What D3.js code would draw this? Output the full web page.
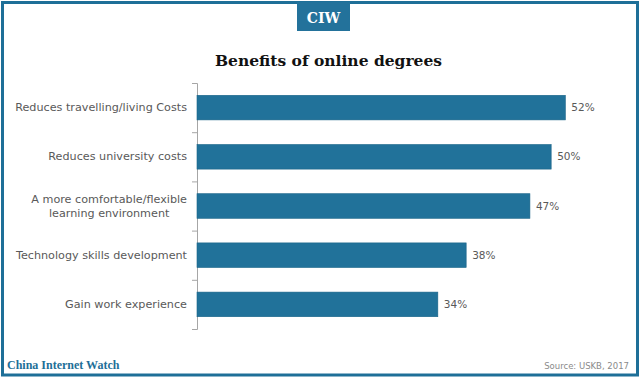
<!DOCTYPE html>
<html><head><meta charset="utf-8">
<script src="https://cdn.jsdelivr.net/npm/d3@7"></script>
<style>
html,body{margin:0;padding:0;background:#fff;}
svg{display:block;}
</style></head>
<body>
<svg id="c" width="640" height="379"></svg>
<script>
const categories = [
  "Reduces travelling/living Costs",
  "Reduces university costs",
  "A more comfortable/flexible\nlearning environment",
  "Technology skills development",
  "Gain work experience"
];
const values = [52, 50, 47, 38, 34];
const valueLabels = ["52%", "50%", "47%", "38%", "34%"];
const title = "Benefits of online degrees";
const brand = "CIW";
const footerLeft = "China Internet Watch";
const footerRight = "Source: USKB, 2017";

const blue = "#21729a";
const gray = "#595959";
const svg = d3.select("#c");

// frame
svg.append("rect").attr("x", 2.5).attr("y", 2.5).attr("width", 635).attr("height", 372.5)
  .attr("fill", "none").attr("stroke", "#1e6f98").attr("stroke-width", 3);

// brand box
svg.append("rect").attr("x", 297).attr("y", 2).attr("width", 53).attr("height", 29).attr("fill", "#23729b");
svg.append("text").attr("x", 323.5).attr("y", 23).attr("text-anchor", "middle")
  .attr("font-family", "DejaVu Serif, serif").attr("font-weight", "bold").attr("font-size", 14)
  .attr("fill", "#fff").text(brand);

// title
svg.append("text").attr("x", 328.5).attr("y", 66).attr("text-anchor", "middle")
  .attr("font-family", "DejaVu Serif, serif").attr("font-weight", "bold").attr("font-size", 15.5)
  .attr("fill", "#111").text(title);

const x = d3.scaleLinear().domain([0, 60]).range([197, 622]);
const y = d3.scaleBand().domain(categories).range([83, 329]).paddingInner(0.5).paddingOuter(0.25);
const yEdges = d3.scaleLinear().domain([0, categories.length]).range([83, 329]);

// axis line with ticks at band boundaries
const ax = svg.append("g").attr("transform", "translate(197,0)")
  .call(d3.axisLeft(yEdges).ticks(categories.length).tickFormat("").tickSize(5).tickSizeOuter(5));
ax.selectAll("path,line").attr("stroke", "#a6a6a6").attr("stroke-width", 1);

// category labels
const lab = svg.append("g").attr("transform", "translate(197,0)")
  .call(d3.axisLeft(y).tickSize(0).tickPadding(10));
lab.select(".domain").remove();
lab.selectAll("text").attr("font-family", "DejaVu Sans, sans-serif").attr("font-size", 11.2)
  .attr("fill", gray).each(function(d) {
    const t = d3.select(this);
    const lines = d.split("\n");
    if (lines.length > 1) {
      t.text(null);
      const widths = lines.map(s => { t.text(s); return this.getComputedTextLength(); });
      t.text(null);
      const maxW = Math.max(...widths);
      const cx = -10 - maxW / 2;
      t.attr("text-anchor", "middle").attr("dy", null);
      lines.forEach((s, i) => {
        t.append("tspan").attr("x", cx).attr("y", (i - (lines.length - 1) / 2) * 14).attr("dy", "0.32em").text(s);
      });
    }
  });

// bars
svg.append("g").selectAll("rect").data(values).join("rect")
  .attr("x", x(0)).attr("y", (d, i) => y(categories[i]))
  .attr("width", d => x(d) - x(0)).attr("height", y.bandwidth())
  .attr("fill", blue).attr("stroke", "#1a6488").attr("stroke-width", 0.6);

// value labels
svg.append("g").selectAll("text").data(values).join("text")
  .attr("x", d => x(d) + 6).attr("y", (d, i) => y(categories[i]) + y.bandwidth() / 2)
  .attr("dy", "0.35em").attr("font-family", "DejaVu Sans, sans-serif").attr("font-size", 10.5)
  .attr("fill", gray).text((d, i) => valueLabels[i]);

// footer
svg.append("text").attr("x", 7).attr("y", 369)
  .attr("font-family", "Liberation Serif, serif").attr("font-weight", "bold").attr("font-size", 12)
  .attr("fill", "#1e6f98").text(footerLeft);
svg.append("text").attr("x", 629).attr("y", 369).attr("text-anchor", "end")
  .attr("font-family", "DejaVu Sans, sans-serif").attr("font-size", 8.5)
  .attr("fill", "#8a8a8a").text(footerRight);
</script>
</body></html>
